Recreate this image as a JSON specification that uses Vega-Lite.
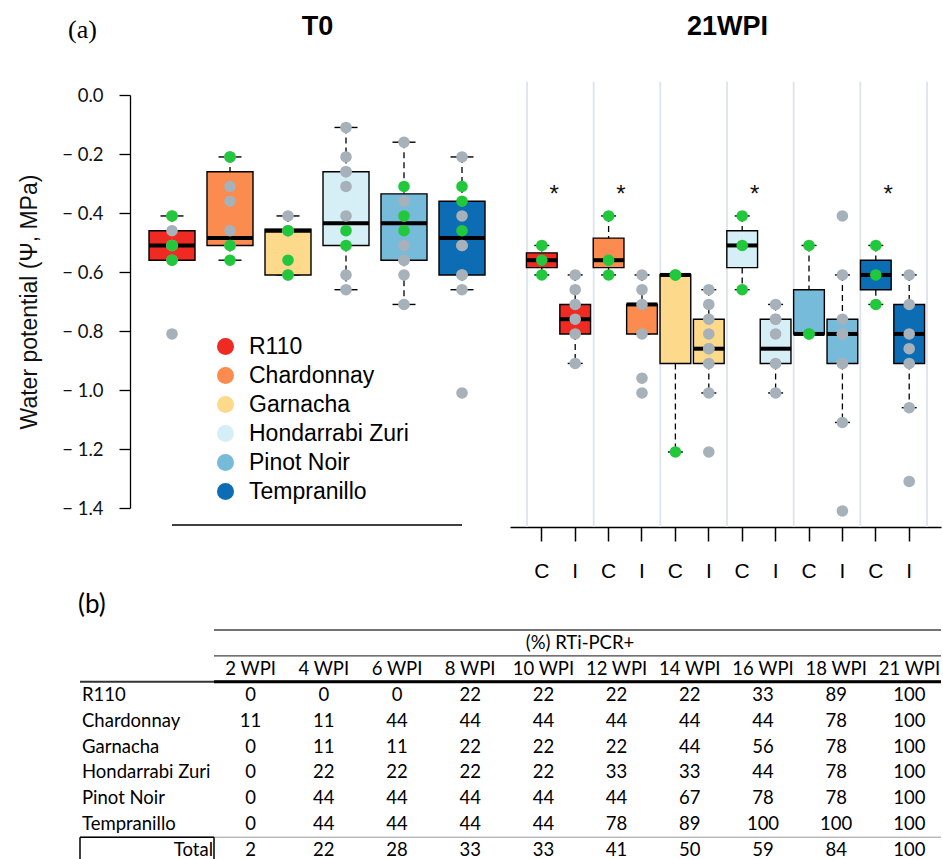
{
  "$schema": "https://vega.github.io/schema/vega-lite/v6.json",
  "background": "white",
  "padding": {"left": 18, "top": 12, "right": 0, "bottom": 0},
  "spacing": 11,
  "align": "all",
  "bounds": "full",
  "config": {"view": {"stroke": null}, "font": "Liberation Sans", "axis": {"grid": false}},
  "datasets": {
    "seps": [
      {"cultivar": "R110"}, {"cultivar": "Chardonnay"}, {"cultivar": "Garnacha"},
      {"cultivar": "Hondarrabi Zuri"}, {"cultivar": "Pinot Noir"}, {"cultivar": "Tempranillo"}
    ],
    "t0box": [
      {"cultivar": "R110", "lo": -0.56, "q1": -0.56, "med": -0.51, "q3": -0.46, "hi": -0.41},
      {"cultivar": "Chardonnay", "lo": -0.56, "q1": -0.51, "med": -0.485, "q3": -0.26, "hi": -0.21},
      {"cultivar": "Garnacha", "lo": -0.61, "q1": -0.61, "med": -0.46, "q3": -0.455, "hi": -0.41},
      {"cultivar": "Hondarrabi Zuri", "lo": -0.66, "q1": -0.51, "med": -0.435, "q3": -0.26, "hi": -0.11},
      {"cultivar": "Pinot Noir", "lo": -0.71, "q1": -0.56, "med": -0.435, "q3": -0.335, "hi": -0.16},
      {"cultivar": "Tempranillo", "lo": -0.66, "q1": -0.61, "med": -0.485, "q3": -0.36, "hi": -0.21}
    ],
    "t0pts": [
      {"cultivar": "R110", "trt": "I", "wp": -0.41}, {"cultivar": "R110", "trt": "I", "wp": -0.46},
      {"cultivar": "R110", "trt": "I", "wp": -0.51}, {"cultivar": "R110", "trt": "I", "wp": -0.51},
      {"cultivar": "R110", "trt": "I", "wp": -0.56}, {"cultivar": "R110", "trt": "I", "wp": -0.81},
      {"cultivar": "Chardonnay", "trt": "I", "wp": -0.21}, {"cultivar": "Chardonnay", "trt": "I", "wp": -0.21},
      {"cultivar": "Chardonnay", "trt": "I", "wp": -0.31}, {"cultivar": "Chardonnay", "trt": "I", "wp": -0.36},
      {"cultivar": "Chardonnay", "trt": "I", "wp": -0.46}, {"cultivar": "Chardonnay", "trt": "I", "wp": -0.51},
      {"cultivar": "Garnacha", "trt": "I", "wp": -0.41}, {"cultivar": "Garnacha", "trt": "I", "wp": -0.46},
      {"cultivar": "Garnacha", "trt": "I", "wp": -0.46}, {"cultivar": "Garnacha", "trt": "I", "wp": -0.61},
      {"cultivar": "Hondarrabi Zuri", "trt": "I", "wp": -0.11}, {"cultivar": "Hondarrabi Zuri", "trt": "I", "wp": -0.21},
      {"cultivar": "Hondarrabi Zuri", "trt": "I", "wp": -0.26}, {"cultivar": "Hondarrabi Zuri", "trt": "I", "wp": -0.26},
      {"cultivar": "Hondarrabi Zuri", "trt": "I", "wp": -0.31}, {"cultivar": "Hondarrabi Zuri", "trt": "I", "wp": -0.41},
      {"cultivar": "Hondarrabi Zuri", "trt": "I", "wp": -0.61}, {"cultivar": "Hondarrabi Zuri", "trt": "I", "wp": -0.66},
      {"cultivar": "Pinot Noir", "trt": "I", "wp": -0.16}, {"cultivar": "Pinot Noir", "trt": "I", "wp": -0.36},
      {"cultivar": "Pinot Noir", "trt": "I", "wp": -0.41}, {"cultivar": "Pinot Noir", "trt": "I", "wp": -0.51},
      {"cultivar": "Pinot Noir", "trt": "I", "wp": -0.56}, {"cultivar": "Pinot Noir", "trt": "I", "wp": -0.56},
      {"cultivar": "Pinot Noir", "trt": "I", "wp": -0.61}, {"cultivar": "Pinot Noir", "trt": "I", "wp": -0.71},
      {"cultivar": "Tempranillo", "trt": "I", "wp": -0.21}, {"cultivar": "Tempranillo", "trt": "I", "wp": -0.41},
      {"cultivar": "Tempranillo", "trt": "I", "wp": -0.51}, {"cultivar": "Tempranillo", "trt": "I", "wp": -0.51},
      {"cultivar": "Tempranillo", "trt": "I", "wp": -0.61}, {"cultivar": "Tempranillo", "trt": "I", "wp": -0.61},
      {"cultivar": "Tempranillo", "trt": "I", "wp": -0.66}, {"cultivar": "Tempranillo", "trt": "I", "wp": -1.01},
      {"cultivar": "R110", "trt": "C", "wp": -0.41}, {"cultivar": "R110", "trt": "C", "wp": -0.51},
      {"cultivar": "R110", "trt": "C", "wp": -0.56},
      {"cultivar": "Chardonnay", "trt": "C", "wp": -0.21}, {"cultivar": "Chardonnay", "trt": "C", "wp": -0.51},
      {"cultivar": "Chardonnay", "trt": "C", "wp": -0.56},
      {"cultivar": "Garnacha", "trt": "C", "wp": -0.46}, {"cultivar": "Garnacha", "trt": "C", "wp": -0.56},
      {"cultivar": "Garnacha", "trt": "C", "wp": -0.61},
      {"cultivar": "Hondarrabi Zuri", "trt": "C", "wp": -0.46}, {"cultivar": "Hondarrabi Zuri", "trt": "C", "wp": -0.51},
      {"cultivar": "Pinot Noir", "trt": "C", "wp": -0.31}, {"cultivar": "Pinot Noir", "trt": "C", "wp": -0.41},
      {"cultivar": "Pinot Noir", "trt": "C", "wp": -0.46},
      {"cultivar": "Tempranillo", "trt": "C", "wp": -0.31}, {"cultivar": "Tempranillo", "trt": "C", "wp": -0.36},
      {"cultivar": "Tempranillo", "trt": "C", "wp": -0.46}
    ],
    "wbox": [
      {"grp": "R110|C", "cultivar": "R110", "lo": -0.61, "q1": -0.585, "med": -0.56, "q3": -0.535, "hi": -0.51},
      {"grp": "R110|I", "cultivar": "R110", "lo": -0.91, "q1": -0.81, "med": -0.76, "q3": -0.71, "hi": -0.61},
      {"grp": "Chardonnay|C", "cultivar": "Chardonnay", "lo": -0.61, "q1": -0.585, "med": -0.56, "q3": -0.485, "hi": -0.41},
      {"grp": "Chardonnay|I", "cultivar": "Chardonnay", "lo": -0.81, "q1": -0.81, "med": -0.71, "q3": -0.71, "hi": -0.61},
      {"grp": "Garnacha|C", "cultivar": "Garnacha", "lo": -1.21, "q1": -0.91, "med": -0.61, "q3": -0.61, "hi": -0.61},
      {"grp": "Garnacha|I", "cultivar": "Garnacha", "lo": -1.01, "q1": -0.91, "med": -0.86, "q3": -0.76, "hi": -0.66},
      {"grp": "Hondarrabi Zuri|C", "cultivar": "Hondarrabi Zuri", "lo": -0.66, "q1": -0.585, "med": -0.51, "q3": -0.46, "hi": -0.41},
      {"grp": "Hondarrabi Zuri|I", "cultivar": "Hondarrabi Zuri", "lo": -1.01, "q1": -0.91, "med": -0.86, "q3": -0.76, "hi": -0.71},
      {"grp": "Pinot Noir|C", "cultivar": "Pinot Noir", "lo": -0.81, "q1": -0.81, "med": -0.81, "q3": -0.66, "hi": -0.51},
      {"grp": "Pinot Noir|I", "cultivar": "Pinot Noir", "lo": -1.11, "q1": -0.91, "med": -0.81, "q3": -0.76, "hi": -0.61},
      {"grp": "Tempranillo|C", "cultivar": "Tempranillo", "lo": -0.71, "q1": -0.66, "med": -0.61, "q3": -0.56, "hi": -0.51},
      {"grp": "Tempranillo|I", "cultivar": "Tempranillo", "lo": -1.06, "q1": -0.91, "med": -0.81, "q3": -0.71, "hi": -0.61}
    ],
    "wpts": [
      {"grp": "R110|C", "trt": "C", "wp": -0.51}, {"grp": "R110|C", "trt": "C", "wp": -0.56}, {"grp": "R110|C", "trt": "C", "wp": -0.61},
      {"grp": "R110|I", "trt": "I", "wp": -0.61}, {"grp": "R110|I", "trt": "I", "wp": -0.66}, {"grp": "R110|I", "trt": "I", "wp": -0.71},
      {"grp": "R110|I", "trt": "I", "wp": -0.76}, {"grp": "R110|I", "trt": "I", "wp": -0.81}, {"grp": "R110|I", "trt": "I", "wp": -0.91},
      {"grp": "Chardonnay|C", "trt": "C", "wp": -0.41}, {"grp": "Chardonnay|C", "trt": "C", "wp": -0.56}, {"grp": "Chardonnay|C", "trt": "C", "wp": -0.61},
      {"grp": "Chardonnay|I", "trt": "I", "wp": -0.61}, {"grp": "Chardonnay|I", "trt": "I", "wp": -0.66}, {"grp": "Chardonnay|I", "trt": "I", "wp": -0.71},
      {"grp": "Chardonnay|I", "trt": "I", "wp": -0.81}, {"grp": "Chardonnay|I", "trt": "I", "wp": -0.96}, {"grp": "Chardonnay|I", "trt": "I", "wp": -1.01},
      {"grp": "Garnacha|C", "trt": "C", "wp": -0.61}, {"grp": "Garnacha|C", "trt": "C", "wp": -0.61}, {"grp": "Garnacha|C", "trt": "C", "wp": -1.21},
      {"grp": "Garnacha|I", "trt": "I", "wp": -0.66}, {"grp": "Garnacha|I", "trt": "I", "wp": -0.71}, {"grp": "Garnacha|I", "trt": "I", "wp": -0.76},
      {"grp": "Garnacha|I", "trt": "I", "wp": -0.81}, {"grp": "Garnacha|I", "trt": "I", "wp": -0.86}, {"grp": "Garnacha|I", "trt": "I", "wp": -0.86},
      {"grp": "Garnacha|I", "trt": "I", "wp": -0.91}, {"grp": "Garnacha|I", "trt": "I", "wp": -1.01}, {"grp": "Garnacha|I", "trt": "I", "wp": -1.21},
      {"grp": "Hondarrabi Zuri|C", "trt": "C", "wp": -0.41}, {"grp": "Hondarrabi Zuri|C", "trt": "C", "wp": -0.51}, {"grp": "Hondarrabi Zuri|C", "trt": "C", "wp": -0.66},
      {"grp": "Hondarrabi Zuri|I", "trt": "I", "wp": -0.71}, {"grp": "Hondarrabi Zuri|I", "trt": "I", "wp": -0.76}, {"grp": "Hondarrabi Zuri|I", "trt": "I", "wp": -0.76},
      {"grp": "Hondarrabi Zuri|I", "trt": "I", "wp": -0.81}, {"grp": "Hondarrabi Zuri|I", "trt": "I", "wp": -0.91}, {"grp": "Hondarrabi Zuri|I", "trt": "I", "wp": -1.01},
      {"grp": "Pinot Noir|C", "trt": "C", "wp": -0.51}, {"grp": "Pinot Noir|C", "trt": "C", "wp": -0.81}, {"grp": "Pinot Noir|C", "trt": "C", "wp": -0.81},
      {"grp": "Pinot Noir|I", "trt": "I", "wp": -0.41}, {"grp": "Pinot Noir|I", "trt": "I", "wp": -0.61}, {"grp": "Pinot Noir|I", "trt": "I", "wp": -0.76},
      {"grp": "Pinot Noir|I", "trt": "I", "wp": -0.81}, {"grp": "Pinot Noir|I", "trt": "I", "wp": -0.81}, {"grp": "Pinot Noir|I", "trt": "I", "wp": -0.91},
      {"grp": "Pinot Noir|I", "trt": "I", "wp": -0.91}, {"grp": "Pinot Noir|I", "trt": "I", "wp": -1.11}, {"grp": "Pinot Noir|I", "trt": "I", "wp": -1.41},
      {"grp": "Tempranillo|C", "trt": "C", "wp": -0.51}, {"grp": "Tempranillo|C", "trt": "C", "wp": -0.61}, {"grp": "Tempranillo|C", "trt": "C", "wp": -0.71},
      {"grp": "Tempranillo|I", "trt": "I", "wp": -0.61}, {"grp": "Tempranillo|I", "trt": "I", "wp": -0.71}, {"grp": "Tempranillo|I", "trt": "I", "wp": -0.81},
      {"grp": "Tempranillo|I", "trt": "I", "wp": -0.86}, {"grp": "Tempranillo|I", "trt": "I", "wp": -0.91}, {"grp": "Tempranillo|I", "trt": "I", "wp": -1.06},
      {"grp": "Tempranillo|I", "trt": "I", "wp": -1.31}
    ],
    "stars": [
      {"grp": "R110|C", "mark": "*"}, {"grp": "Chardonnay|C", "mark": "*"},
      {"grp": "Hondarrabi Zuri|C", "mark": "*"}, {"grp": "Tempranillo|C", "mark": "*"}
    ],
    "tbl": [
      {"row": "hdr2", "2 WPI": "2 WPI", "4 WPI": "4 WPI", "6 WPI": "6 WPI", "8 WPI": "8 WPI", "10 WPI": "10 WPI", "12 WPI": "12 WPI", "14 WPI": "14 WPI", "16 WPI": "16 WPI", "18 WPI": "18 WPI", "21 WPI": "21 WPI"},
      {"row": "R110", "2 WPI": "0", "4 WPI": "0", "6 WPI": "0", "8 WPI": "22", "10 WPI": "22", "12 WPI": "22", "14 WPI": "22", "16 WPI": "33", "18 WPI": "89", "21 WPI": "100"},
      {"row": "Chardonnay", "2 WPI": "11", "4 WPI": "11", "6 WPI": "44", "8 WPI": "44", "10 WPI": "44", "12 WPI": "44", "14 WPI": "44", "16 WPI": "44", "18 WPI": "78", "21 WPI": "100"},
      {"row": "Garnacha", "2 WPI": "0", "4 WPI": "11", "6 WPI": "11", "8 WPI": "22", "10 WPI": "22", "12 WPI": "22", "14 WPI": "44", "16 WPI": "56", "18 WPI": "78", "21 WPI": "100"},
      {"row": "Hondarrabi Zuri", "2 WPI": "0", "4 WPI": "22", "6 WPI": "22", "8 WPI": "22", "10 WPI": "22", "12 WPI": "33", "14 WPI": "33", "16 WPI": "44", "18 WPI": "78", "21 WPI": "100"},
      {"row": "Pinot Noir", "2 WPI": "0", "4 WPI": "44", "6 WPI": "44", "8 WPI": "44", "10 WPI": "44", "12 WPI": "44", "14 WPI": "67", "16 WPI": "78", "18 WPI": "78", "21 WPI": "100"},
      {"row": "Tempranillo", "2 WPI": "0", "4 WPI": "44", "6 WPI": "44", "8 WPI": "44", "10 WPI": "44", "12 WPI": "78", "14 WPI": "89", "16 WPI": "100", "18 WPI": "100", "21 WPI": "100"},
      {"row": "Total", "2 WPI": "2", "4 WPI": "22", "6 WPI": "28", "8 WPI": "33", "10 WPI": "33", "12 WPI": "41", "14 WPI": "50", "16 WPI": "59", "18 WPI": "84", "21 WPI": "100"}
    ],
    "rowlab": [
      {"row": "R110", "side": "L"}, {"row": "Chardonnay", "side": "L"}, {"row": "Garnacha", "side": "L"},
      {"row": "Hondarrabi Zuri", "side": "L"}, {"row": "Pinot Noir", "side": "L"}, {"row": "Tempranillo", "side": "L"},
      {"row": "Total", "side": "R"}
    ]
  },
  "vconcat": [
    {
      "width": 861,
      "height": 413,
      "title": {"text": "(a)", "anchor": "start", "frame": "group", "dx": -12, "offset": -52, "baseline": "alphabetic", "font": "Liberation Serif", "fontSize": 26, "fontWeight": "normal", "color": "#000"},
      "resolve": {"scale": {"x": "independent"}, "axis": {"x": "independent"}},
      "layer": [
        {
          "data": {"name": "seps"},
          "layer": [
            {
              "mark": {"type": "rule", "color": "#dde4ec", "strokeWidth": 1.8},
              "encoding": {
                "x": {"field": "cultivar", "type": "nominal", "bandPosition": 0,
                  "scale": {"type": "band", "domain": ["R110", "Chardonnay", "Garnacha", "Hondarrabi Zuri", "Pinot Noir", "Tempranillo"], "range": [447, 847], "paddingInner": 0, "paddingOuter": 0},
                  "axis": {"orient": "top", "title": "21WPI", "labels": false, "ticks": false, "domain": false, "tickSize": 0, "labelPadding": 0, "titleFont": "Liberation Sans", "titleFontSize": 27, "titleFontWeight": "bold", "titleColor": "#000", "titleBaseline": "alphabetic", "titlePadding": 61, "grid": false}},
                "y": {"datum": 0.045, "type": "quantitative"},
                "y2": {"datum": -1.4644}
              }
            },
            {
              "transform": [{"filter": "datum.cultivar === 'Tempranillo'"}],
              "mark": {"type": "rule", "color": "#dde4ec", "strokeWidth": 1.8},
              "encoding": {
                "x": {"field": "cultivar", "type": "nominal", "bandPosition": 1},
                "y": {"datum": 0.045, "type": "quantitative"},
                "y2": {"datum": -1.4644}
              }
            }
          ]
        },
        {
          "data": {"name": "t0box"},
          "layer": [
            {
              "mark": {"type": "rule", "color": "#000", "strokeWidth": 1.3, "strokeDash": [6, 4]},
              "encoding": {
                "x": {"field": "cultivar", "type": "nominal",
                  "scale": {"type": "point", "domain": ["R110", "Chardonnay", "Garnacha", "Hondarrabi Zuri", "Pinot Noir", "Tempranillo"], "range": [92, 382], "padding": 0},
                  "axis": {"orient": "top", "title": "T0", "labels": false, "ticks": false, "domain": false, "tickSize": 0, "labelPadding": 0, "titleFont": "Liberation Sans", "titleFontSize": 27, "titleFontWeight": "bold", "titleColor": "#000", "titleBaseline": "alphabetic", "titlePadding": 61, "grid": false}},
                "y": {"field": "hi", "type": "quantitative",
                  "scale": {"domain": [-1.4, 0], "nice": false, "zero": false},
                  "axis": {"orient": "left", "offset": -50, "values": [0, -0.2, -0.4, -0.6, -0.8, -1, -1.2, -1.4],
                    "labelExpr": "datum.value === 0 ? '0.0' : '\u2212 ' + format(-datum.value, '.1f')",
                    "labelFont": "Lato", "labelFontSize": 18.5, "labelColor": "#111", "labelPadding": 16,
                    "tickSize": 11, "tickColor": "#000", "tickWidth": 1.3, "domainColor": "#000", "domainWidth": 1.3,
                    "title": "Water potential (\u03a8, MPa)", "titleFont": "Liberation Sans", "titleFontSize": 23, "titleFontWeight": "normal", "titleColor": "#111", "titlePadding": 20, "grid": false}},
                "y2": {"field": "q3"}
              }
            },
            {
              "mark": {"type": "rule", "color": "#000", "strokeWidth": 1.3, "strokeDash": [6, 4]},
              "encoding": {"x": {"field": "cultivar", "type": "nominal"}, "y": {"field": "q1", "type": "quantitative"}, "y2": {"field": "lo"}}
            },
            {
              "mark": {"type": "tick", "color": "#000", "opacity": 1, "size": 23, "thickness": 1.4},
              "encoding": {"x": {"field": "cultivar", "type": "nominal"}, "y": {"field": "hi", "type": "quantitative"}}
            },
            {
              "mark": {"type": "tick", "color": "#000", "opacity": 1, "size": 23, "thickness": 1.4},
              "encoding": {"x": {"field": "cultivar", "type": "nominal"}, "y": {"field": "lo", "type": "quantitative"}}
            },
            {
              "mark": {"type": "bar", "width": 46, "stroke": "#000", "strokeWidth": 1.4},
              "encoding": {
                "x": {"field": "cultivar", "type": "nominal"},
                "y": {"field": "q1", "type": "quantitative"},
                "y2": {"field": "q3"},
                "fill": {"field": "cultivar", "type": "nominal",
                  "scale": {"domain": ["R110", "Chardonnay", "Garnacha", "Hondarrabi Zuri", "Pinot Noir", "Tempranillo"], "range": ["#ee2a22", "#fb8b4e", "#fdd98b", "#d6eff7", "#77bbda", "#0c6cb4"]},
                  "legend": {"orient": "none", "legendX": 134, "legendY": 240, "title": null, "symbolType": "circle", "symbolSize": 290, "symbolStrokeWidth": 0, "symbolOpacity": 1, "labelFont": "Liberation Sans", "labelFontSize": 23, "labelColor": "#000", "rowPadding": 5, "labelOffset": 12, "padding": 0, "labelLimit": 400}}
              }
            },
            {
              "mark": {"type": "tick", "color": "#000", "opacity": 1, "size": 46, "thickness": 4},
              "encoding": {"x": {"field": "cultivar", "type": "nominal"}, "y": {"field": "med", "type": "quantitative"}}
            },
            {
              "data": {"name": "t0pts"},
              "mark": {"type": "circle", "size": 135, "opacity": 1},
              "encoding": {
                "x": {"field": "cultivar", "type": "nominal"},
                "y": {"field": "wp", "type": "quantitative"},
                "color": {"condition": {"test": "datum.trt === 'C'", "value": "#22c83c"}, "value": "#a7b1b9"}
              }
            },
            {
              "transform": [{"filter": "datum.cultivar === 'R110'"}],
              "mark": {"type": "rule", "color": "#000", "strokeWidth": 1.5},
              "encoding": {"x": {"datum": "R110"}, "x2": {"datum": "Tempranillo"}, "y": {"datum": -1.4576, "type": "quantitative"}}
            }
          ]
        },
        {
          "data": {"name": "wbox"},
          "layer": [
            {
              "mark": {"type": "rule", "color": "#000", "strokeWidth": 1.3, "strokeDash": [6, 4]},
              "encoding": {
                "x": {"field": "grp", "type": "nominal",
                  "scale": {"type": "band", "domain": ["R110|C", "R110|I", "Chardonnay|C", "Chardonnay|I", "Garnacha|C", "Garnacha|I", "Hondarrabi Zuri|C", "Hondarrabi Zuri|I", "Pinot Noir|C", "Pinot Noir|I", "Tempranillo|C", "Tempranillo|I"], "range": [430, 861], "paddingInner": 0, "paddingOuter": 0.452},
                  "axis": {"orient": "bottom", "offset": 19, "title": null, "labelExpr": "substring(datum.value, length(datum.value) - 1)", "labelAngle": 0, "labelFont": "Liberation Sans", "labelFontSize": 21, "labelColor": "#000", "labelPadding": 19, "tickSize": 14, "tickColor": "#000", "tickWidth": 1.5, "domainColor": "#000", "domainWidth": 1.5, "grid": false}},
                "y": {"field": "hi", "type": "quantitative"},
                "y2": {"field": "q3"}
              }
            },
            {
              "mark": {"type": "rule", "color": "#000", "strokeWidth": 1.3, "strokeDash": [6, 4]},
              "encoding": {"x": {"field": "grp", "type": "nominal"}, "y": {"field": "q1", "type": "quantitative"}, "y2": {"field": "lo"}}
            },
            {
              "mark": {"type": "tick", "color": "#000", "opacity": 1, "size": 15, "thickness": 1.4},
              "encoding": {"x": {"field": "grp", "type": "nominal"}, "y": {"field": "hi", "type": "quantitative"}}
            },
            {
              "mark": {"type": "tick", "color": "#000", "opacity": 1, "size": 15, "thickness": 1.4},
              "encoding": {"x": {"field": "grp", "type": "nominal"}, "y": {"field": "lo", "type": "quantitative"}}
            },
            {
              "mark": {"type": "bar", "width": {"band": 0.92}, "stroke": "#000", "strokeWidth": 1.4},
              "encoding": {
                "x": {"field": "grp", "type": "nominal"},
                "y": {"field": "q1", "type": "quantitative"},
                "y2": {"field": "q3"},
                "fill": {"field": "cultivar", "type": "nominal"}
              }
            },
            {
              "mark": {"type": "tick", "color": "#000", "opacity": 1, "size": 31, "thickness": 4},
              "encoding": {"x": {"field": "grp", "type": "nominal"}, "y": {"field": "med", "type": "quantitative"}}
            },
            {
              "data": {"name": "wpts"},
              "mark": {"type": "circle", "size": 135, "opacity": 1},
              "encoding": {
                "x": {"field": "grp", "type": "nominal"},
                "y": {"field": "wp", "type": "quantitative"},
                "color": {"condition": {"test": "datum.trt === 'C'", "value": "#22c83c"}, "value": "#a7b1b9"}
              }
            },
            {
              "data": {"name": "stars"},
              "mark": {"type": "text", "font": "Liberation Sans", "fontSize": 24, "color": "#111", "baseline": "alphabetic", "align": "center"},
              "encoding": {
                "x": {"field": "grp", "type": "nominal", "bandPosition": 0.87},
                "y": {"datum": -0.362, "type": "quantitative"},
                "text": {"field": "mark"}
              }
            }
          ]
        }
      ]
    },
    {
      "width": 861,
      "height": 229,
      "title": {"text": "(b)", "anchor": "start", "frame": "group", "offset": -10, "baseline": "alphabetic", "font": "Lato", "fontSize": 26, "fontWeight": "normal", "color": "#000", "dx": -2},
      "resolve": {"scale": {"x": "independent"}, "axis": {"x": "independent"}},
      "layer": [
        {
          "layer": [
            {
              "data": {"values": [{"row": "hdr1", "col": "2 WPI"}, {"row": "hdr2", "col": "2 WPI"}]},
              "mark": {"type": "rule", "color": "#444", "strokeWidth": 1.3},
              "encoding": {
                "x": {"field": "col", "type": "nominal", "bandPosition": 0,
                  "scale": {"type": "band", "domain": ["2 WPI", "4 WPI", "6 WPI", "8 WPI", "10 WPI", "12 WPI", "14 WPI", "16 WPI", "18 WPI", "21 WPI"], "range": [134, 866], "paddingInner": 0, "paddingOuter": 0},
                  "axis": null},
                "x2": {"value": "width"},
                "y": {"field": "row", "type": "nominal", "bandPosition": 0,
                  "scale": {"type": "band", "domain": ["hdr1", "hdr2", "R110", "Chardonnay", "Garnacha", "Hondarrabi Zuri", "Pinot Noir", "Tempranillo", "Total"], "range": [0, 233.1], "paddingInner": 0, "paddingOuter": 0},
                  "axis": null}
              }
            },
            {
              "data": {"values": [{"row": "R110"}]},
              "mark": {"type": "rule", "color": "#333", "strokeWidth": 2},
              "encoding": {"y": {"field": "row", "type": "nominal", "bandPosition": 0, "axis": null}}
            },
            {
              "data": {"values": [{"row": "R110", "col": "2 WPI"}]},
              "mark": {"type": "rule", "color": "#000", "strokeWidth": 3},
              "encoding": {
                "x": {"field": "col", "type": "nominal", "bandPosition": 0, "axis": null},
                "x2": {"value": "width"},
                "y": {"field": "row", "type": "nominal", "bandPosition": 0, "axis": null}
              }
            },
            {
              "data": {"values": [{"row": "Total"}]},
              "mark": {"type": "rule", "color": "#9a9a9a", "strokeWidth": 1},
              "encoding": {"y": {"field": "row", "type": "nominal", "bandPosition": 0, "axis": null}}
            },
            {
              "data": {"values": [{"row": "Total", "col": "2 WPI"}]},
              "mark": {"type": "rule", "color": "#000", "strokeWidth": 1.5},
              "encoding": {
                "x": {"field": "col", "type": "nominal", "bandPosition": 0, "axis": null},
                "x2": {"value": 0},
                "y": {"field": "row", "type": "nominal", "bandPosition": 0, "axis": null}
              }
            },
            {
              "data": {"values": [{"row": "Total", "col": "2 WPI"}]},
              "mark": {"type": "rule", "color": "#000", "strokeWidth": 1.5},
              "encoding": {
                "x": {"value": 0},
                "y": {"field": "row", "type": "nominal", "bandPosition": 0, "axis": null},
                "y2": {"value": "height"}
              }
            },
            {
              "data": {"values": [{"row": "Total", "col": "2 WPI"}]},
              "mark": {"type": "rule", "color": "#000", "strokeWidth": 1.5},
              "encoding": {
                "x": {"field": "col", "type": "nominal", "bandPosition": 0, "axis": null},
                "y": {"field": "row", "type": "nominal", "bandPosition": 0, "axis": null},
                "y2": {"value": "height"}
              }
            },
            {
              "data": {"name": "tbl"},
              "transform": [{"fold": ["2 WPI", "4 WPI", "6 WPI", "8 WPI", "10 WPI", "12 WPI", "14 WPI", "16 WPI", "18 WPI", "21 WPI"], "as": ["col", "txt"]}],
              "mark": {"type": "text", "font": "Lato", "fontSize": 18.5, "color": "#000", "baseline": "middle", "align": "center"},
              "encoding": {
                "x": {"field": "col", "type": "nominal", "axis": null},
                "y": {"field": "row", "type": "nominal", "axis": null},
                "text": {"field": "txt"}
              }
            },
            {
              "data": {"values": [{"row": "hdr1", "col": "12 WPI", "txt": "(%) RTi-PCR+"}]},
              "mark": {"type": "text", "font": "Lato", "fontSize": 18.5, "color": "#000", "baseline": "middle", "align": "center"},
              "encoding": {
                "x": {"field": "col", "type": "nominal", "bandPosition": 0, "axis": null},
                "y": {"field": "row", "type": "nominal", "axis": null},
                "text": {"field": "txt"}
              }
            }
          ]
        },
        {
          "data": {"name": "rowlab"},
          "layer": [
            {
              "transform": [{"filter": "datum.side === 'L'"}],
              "mark": {"type": "text", "font": "Lato", "fontSize": 18.5, "color": "#000", "baseline": "middle", "align": "left"},
              "encoding": {
                "x": {"field": "side", "type": "nominal", "bandPosition": 0,
                  "scale": {"type": "band", "domain": ["L", "R"], "range": [2, 264], "paddingInner": 0, "paddingOuter": 0},
                  "axis": null},
                "y": {"field": "row", "type": "nominal", "axis": null},
                "text": {"field": "row"}
              }
            },
            {
              "transform": [{"filter": "datum.side === 'R'"}],
              "mark": {"type": "text", "font": "Lato", "fontSize": 18.5, "color": "#000", "baseline": "middle", "align": "right"},
              "encoding": {
                "x": {"field": "side", "type": "nominal", "bandPosition": 0, "axis": null},
                "y": {"field": "row", "type": "nominal", "axis": null},
                "text": {"field": "row"}
              }
            }
          ]
        }
      ]
    }
  ]
}
